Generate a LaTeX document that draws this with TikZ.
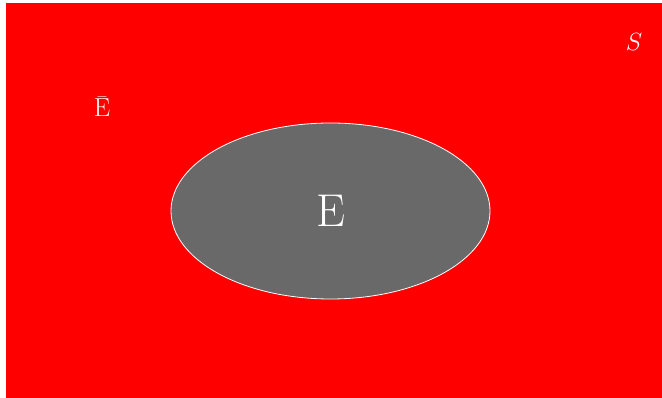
\documentclass[tikz,border=0pt]{standalone}
\usepackage{xcolor}
\usepackage{tikz}
\usetikzlibrary{positioning, shapes.geometric}
\definecolor{samplered}{HTML}{FF0000}
\definecolor{eventgray}{HTML}{696969}

\begin{document}
\begin{tikzpicture}[x=1pt, y=1pt]
    \useasboundingbox (0,0) rectangle (662,398);
    \fill[white] (0,0) rectangle (662,398);
    \fill[samplered] (6,0) rectangle (662,395);
    \node[ellipse, fill=eventgray, draw=white, line width=0.8pt,
          minimum width=319pt, minimum height=176pt, inner sep=0pt] (event) at (330.5,187) {};
    \node[text=white, font=\fontsize{46}{46}\selectfont] (eventlabel) at (event.center) {E};
    \node[text=white, font=\fontsize{26}{26}\selectfont] (complement) at (102,292) {\={E}};
    \node[text=white, font=\fontsize{28}{28}\selectfont] (space) at (634,356) {$S$};
  \end{tikzpicture}
\end{document}
